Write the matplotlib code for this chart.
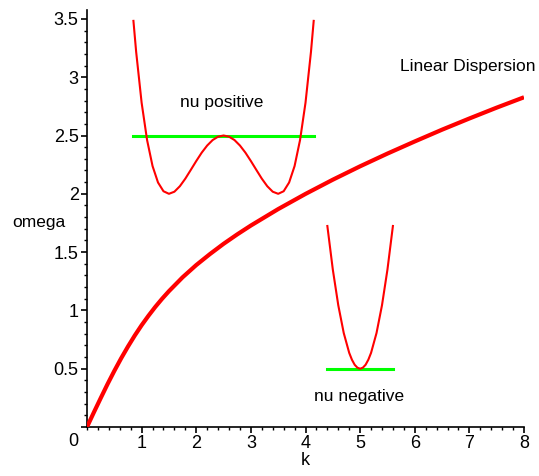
import numpy as np
import matplotlib.pyplot as plt
from matplotlib.ticker import MultipleLocator
from matplotlib.transforms import ScaledTranslation
from matplotlib import font_manager

# main dispersion curve
k_vals = [0, 0.125, 0.25, 0.375, 0.5, 0.625, 0.75, 0.875, 1.0, 1.125, 1.25,
          1.375, 1.5, 1.75, 2.0, 2.25, 2.5, 2.75, 3.0, 3.5,
          4.0, 4.5, 5.0, 5.5, 6.0, 6.5, 7.0, 7.5, 8.0]
omega_vals = [0, 0.125, 0.247, 0.367, 0.481, 0.589, 0.690, 0.785, 0.873,
              0.954, 1.03, 1.10, 1.165, 1.284, 1.389, 1.483, 1.571, 1.652,
              1.728, 1.869, 1.999, 2.121, 2.236, 2.345, 2.449, 2.550, 2.646,
              2.739, 2.828]

# "nu positive" double well sketch
pos_x = [0.85, 0.9, 1.0, 1.1, 1.2, 1.3, 1.4, 1.5, 1.6, 1.7, 1.8, 1.9, 2.0,
         2.1, 2.2, 2.3, 2.4, 2.5, 2.6, 2.7, 2.8, 2.9, 3.0, 3.1, 3.2, 3.3,
         3.4, 3.5, 3.6, 3.7, 3.8, 3.9, 4.0, 4.1, 4.15]
pos_y = [3.483, 3.217, 2.781, 2.461, 2.238, 2.097, 2.022, 2.0, 2.018, 2.065,
         2.130, 2.205, 2.281, 2.353, 2.414, 2.461, 2.490, 2.5, 2.490, 2.461,
         2.414, 2.353, 2.281, 2.205, 2.130, 2.065, 2.018, 2.0, 2.022, 2.097,
         2.238, 2.461, 2.781, 3.217, 3.483]
pos_level = 2.5
pos_range = [0.85, 4.15]

# "nu negative" single well sketch
neg_x = [4.4, 4.5, 4.6, 4.7, 4.8, 4.85, 4.9, 4.95, 5.0, 5.05, 5.1, 5.15,
         5.2, 5.3, 5.4, 5.5, 5.6]
neg_y = [1.724, 1.35, 1.044, 0.806, 0.636, 0.577, 0.534, 0.509, 0.5, 0.509,
         0.534, 0.577, 0.636, 0.806, 1.044, 1.35, 1.724]
neg_level = 0.5
neg_range = [4.4, 5.6]

installed = {f.name for f in font_manager.fontManager.ttflist}
families = [f for f in ['Liberation Sans Narrow', 'Liberation Sans'] if f in installed]
plt.rcParams['font.family'] = families + ['DejaVu Sans']
narrow = 'Liberation Sans Narrow' in installed
fs = 13 if narrow else 12

fig = plt.figure(figsize=(5.39, 4.76), dpi=100)
ax = fig.add_axes([0.1614, 0.1029, 0.8108, 0.877])

ax.plot(k_vals, omega_vals, color='#ff0000', lw=3.0, solid_capstyle='butt', zorder=3)
ax.plot(pos_x, pos_y, color='#ff0000', lw=1.5, zorder=3)
ax.plot(neg_x, neg_y, color='#ff0000', lw=1.5, zorder=3)
ax.plot(pos_range, [pos_level, pos_level], color='#00ff00', lw=2.2, zorder=2)
ax.plot(neg_range, [neg_level, neg_level], color='#00ff00', lw=2.2, zorder=2)

ax.text(5.73, 3.09, 'Linear Dispersion', fontsize=fs + 0.5, ha='left', va='center')
ax.text(2.46, 2.78, 'nu positive', fontsize=fs + 0.5, ha='center', va='center')
ax.text(4.98, 0.26, 'nu negative', fontsize=fs + 0.5, ha='center', va='center')

ax.set_xlim(0, 8)
ax.set_ylim(0, 3.58)
for side in ['top', 'right']:
    ax.spines[side].set_visible(False)
for side in ['left', 'bottom']:
    ax.spines[side].set_linewidth(1.2)

ax.xaxis.set_minor_locator(MultipleLocator(0.2))
ax.yaxis.set_minor_locator(MultipleLocator(0.1))
ax.set_xticks([1, 2, 3, 4, 5, 6, 7, 8])
ax.set_yticks([0, 0.5, 1, 1.5, 2, 2.5, 3, 3.5])
ax.set_yticklabels(['0', '0.5', '1', '1.5', '2', '2.5', '3', '3.5'])
ax.tick_params(which='major', direction='out', length=4, width=1.2, labelsize=fs + 1, pad=2)
ax.tick_params(which='minor', direction='out', length=2, width=1)

# the origin label sits a little below the axis, as in the original
zero_lab = ax.get_yticklabels()[0]
zero_lab.set_transform(zero_lab.get_transform() + ScaledTranslation(0, -9 / 72, fig.dpi_scale_trans))

ax.set_xlabel('k', fontsize=fs + 1, labelpad=0)
ax.set_ylabel('omega', fontsize=fs + 0.5, rotation=0, ha='left', va='center')
ax.yaxis.set_label_coords(-0.172, 0.49)

fig.savefig('out.png', dpi=100)
